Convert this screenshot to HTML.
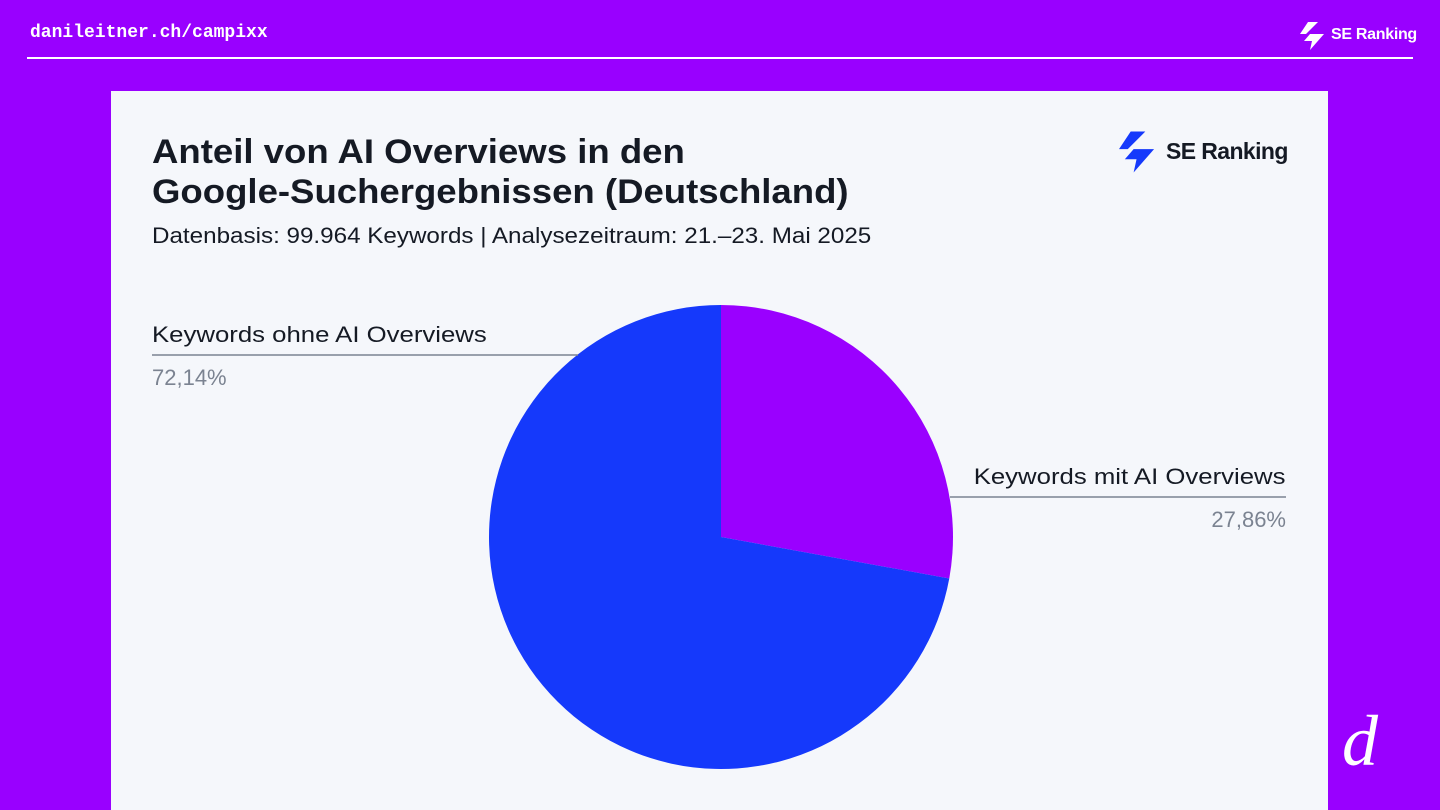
<!DOCTYPE html>
<html><head><meta charset="utf-8"><style>
body{margin:0;width:1440px;height:810px;background:#9900ff;position:relative;overflow:hidden;font-family:"Liberation Sans",sans-serif}
.a{position:absolute;white-space:nowrap}
</style></head><body>
<div class="a" style="left:30px;top:23px;font-family:'Liberation Mono',monospace;font-weight:bold;font-size:18px;color:#fff">danileitner.ch/campixx</div>
<div class="a" style="left:27px;top:57px;width:1386px;height:2px;background:#fff"></div>
<svg class="a" style="left:1300px;top:22px" width="26" height="28" viewBox="0 0 26 28"><path d="M8 0h10L6 12H0z M10 12h14L10 28l2-9H4z" fill="#fff"/></svg>
<div class="a" style="left:1331px;top:26px;font-size:16px;font-weight:bold;color:#fff;letter-spacing:-0.3px">SE Ranking</div>
<div class="a" style="left:1342px;top:700px;font-family:'Liberation Serif',serif;font-style:italic;font-size:72px;color:#fff">d</div>
<div class="a" style="left:111px;top:91px;width:1217px;height:719px;background:#f5f7fb"></div>
<div class="a" style="left:152px;top:132px;font-size:34px;font-weight:bold;color:#151a24;line-height:40px;transform:scaleX(1.075);transform-origin:left top">Anteil von AI Overviews in den<br>Google-Suchergebnissen (Deutschland)</div>
<div class="a" style="left:152px;top:223px;font-size:22px;color:#151a24;transform:scaleX(1.10);transform-origin:left top">Datenbasis: 99.964 Keywords | Analysezeitraum: 21.–23. Mai 2025</div>
<svg class="a" style="left:1119px;top:131px" width="38" height="42" viewBox="0 0 26 28"><path d="M8 0h10L6 12H0z M10 12h14L10 28l2-9H4z" fill="#1539fb"/></svg>
<div class="a" style="left:1166px;top:138px;font-size:23px;font-weight:bold;color:#151a24;letter-spacing:-0.6px">SE Ranking</div>
<svg id="pie" class="a" style="left:0;top:0" width="1440" height="810"></svg>
<div class="a" style="left:152px;top:322px;font-size:22px;color:#151a24;transform:scaleX(1.17);transform-origin:left top">Keywords ohne AI Overviews</div>
<div class="a" style="left:152px;top:365px;font-size:22px;color:#7b8391">72,14%</div>
<div class="a" style="right:154px;top:464px;font-size:22px;color:#151a24;transform:scaleX(1.17);transform-origin:right top">Keywords mit AI Overviews</div>
<div class="a" style="right:154px;top:507px;font-size:22px;color:#7b8391">27,86%</div>
<script>
const categories=["Keywords mit AI Overviews","Keywords ohne AI Overviews"];
const values=[27.86,72.14];
const colors=["#9a00ff","#1539fb"];
const svg=document.getElementById('pie');const NS="http://www.w3.org/2000/svg";
const cx=721,cy=537,r=232;const tot=values.reduce((a,b)=>a+b,0);
let a0=0;
values.forEach((v,i)=>{const a1=a0+v/tot*2*Math.PI;
const x0=cx+r*Math.sin(a0),y0=cy-r*Math.cos(a0),x1=cx+r*Math.sin(a1),y1=cy-r*Math.cos(a1);
const p=document.createElementNS(NS,'path');
p.setAttribute('d',`M${cx},${cy}L${x0},${y0}A${r},${r} 0 ${a1-a0>Math.PI?1:0} 1 ${x1},${y1}Z`);
p.setAttribute('fill',colors[i]);


svg.appendChild(p);a0=a1;});
const l1=document.createElementNS(NS,'line');l1.setAttribute('x1',152);l1.setAttribute('x2',578);l1.setAttribute('y1',355);l1.setAttribute('y2',355);l1.setAttribute('stroke','#7b8391');l1.setAttribute('stroke-width',1.5);


svg.appendChild(l1);
const l2=document.createElementNS(NS,'line');l2.setAttribute('x1',950);l2.setAttribute('x2',1286);l2.setAttribute('y1',497);l2.setAttribute('y2',497);l2.setAttribute('stroke','#7b8391');l2.setAttribute('stroke-width',1.5);


svg.appendChild(l2);
</script>
</body></html>
